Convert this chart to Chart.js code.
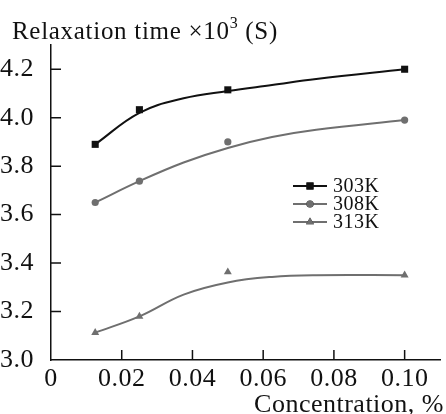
<!DOCTYPE html>
<html>
<head>
<meta charset="utf-8">
<script src="https://cdn.jsdelivr.net/npm/chart.js@4.4.0/dist/chart.umd.min.js"></script>
<style>
  html, body { margin: 0; padding: 0; background: #fff; }
  #wrap { width: 446px; height: 414px; position: relative; }
</style>
</head>
<body>
<div id="wrap"><canvas id="chart"></canvas></div>
<script>
// Measured points (concentration %, relaxation time x10^3 s)
const concentrations = [0.0125, 0.025, 0.05, 0.1];
const t303 = [3.89, 4.033, 4.115, 4.2];
const t308 = [3.65, 3.738, 3.90, 3.99];
const t313 = [3.113, 3.18, 3.363, 3.35];

// Fitted curves
const curveX = [0.0125, 0.025, 0.0375, 0.05, 0.0625, 0.075, 0.1];
const curve303 = [3.89, 4.02, 4.08, 4.11, 4.135, 4.16, 4.2];
const curve308 = [3.65, 3.738, 3.815, 3.875, 3.92, 3.95, 3.99];
const curve313 = [3.113, 3.18, 3.27, 3.32, 3.343, 3.35, 3.35];

const seriesNames = ['303K', '308K', '313K'];
const xTicks = [0, 0.02, 0.04, 0.06, 0.08, 0.10];
const yTicks = [3.0, 3.2, 3.4, 3.6, 3.8, 4.0, 4.2];

const BLACK = '#111111';
const GRAY = '#6f6f6f';
const FONT = '"Liberation Serif", "Times New Roman", serif';

function pts(xs, ys) {
    return xs.map((x, i) => ({ x: x, y: ys[i] }));
}

const styles = [
    { color: BLACK, point: 'rect', radius: 5 },
    { color: GRAY, point: 'circle', radius: 3.6 },
    { color: GRAY, point: 'triangle', radius: 4.6 }
];
const markerData = [t303, t308, t313];
const curveData = [curve303, curve308, curve313];

const datasets = [];
styles.forEach((s, i) => {
    datasets.push({
        label: seriesNames[i] + ' fit',
        data: pts(curveX, curveData[i]),
        showLine: true,
        borderColor: s.color,
        borderWidth: 2,
        pointRadius: 0,
        tension: 0.4
    });
    datasets.push({
        label: seriesNames[i],
        data: pts(concentrations, markerData[i]),
        showLine: false,
        pointStyle: s.point,
        pointRadius: s.radius,
        backgroundColor: s.color,
        borderColor: s.color,
        borderWidth: 0
    });
});

// inward tick marks, titles and legend
const decorations = {
    id: 'decorations',
    beforeDraw(chart) {
        chart.ctx.letterSpacing = '0.5px';
    },
    afterDraw(chart) {
        const ctx = chart.ctx;
        const xs = chart.scales.x, ys = chart.scales.y;
        const area = chart.chartArea;
        ctx.save();
        ctx.strokeStyle = BLACK;
        ctx.lineWidth = 1.5;
        ctx.beginPath();
        xTicks.slice(1).forEach(v => {
            const px = xs.getPixelForValue(v);
            ctx.moveTo(px, area.bottom);
            ctx.lineTo(px, area.bottom - 10);
        });
        yTicks.slice(1).forEach(v => {
            const py = ys.getPixelForValue(v);
            ctx.moveTo(area.left, py);
            ctx.lineTo(area.left + 10, py);
        });
        ctx.stroke();

        // y title
        ctx.fillStyle = BLACK;
        ctx.textBaseline = 'alphabetic';
        ctx.textAlign = 'left';
        ctx.letterSpacing = '0.7px';
        ctx.font = '25px ' + FONT;
        const t1 = 'Relaxation time \u00d710';
        ctx.fillText(t1, 12, 39);
        let w = ctx.measureText(t1).width;
        ctx.font = '16px ' + FONT;
        ctx.fillText('3', 12 + w, 28);
        const w3 = ctx.measureText('3').width;
        ctx.font = '25px ' + FONT;
        ctx.fillText(' (S)', 12 + w + w3, 39);

        // x title
        ctx.letterSpacing = '0.5px';
        ctx.font = '26px ' + FONT;
        const t2 = 'Concentration, %';
        ctx.fillText(t2, 444 - ctx.measureText(t2).width, 412);

        // legend
        ctx.font = '20px ' + FONT;
        ctx.textBaseline = 'middle';
        const rows = [186, 204, 222];
        styles.forEach((s, i) => {
            const y = rows[i];
            ctx.strokeStyle = s.color;
            ctx.lineWidth = 2;
            ctx.beginPath();
            ctx.moveTo(293, y);
            ctx.lineTo(327, y);
            ctx.stroke();
            Chart.helpers.drawPoint(ctx, { pointStyle: s.point, radius: s.radius, borderWidth: 0 }, 310, y);
            ctx.fillStyle = s.color;
            ctx.fill();
            ctx.fillStyle = BLACK;
            ctx.fillText(seriesNames[i], 333, y + 1);
        });
        ctx.restore();
        ctx.letterSpacing = '0px';
    }
};

new Chart(document.getElementById('chart'), {
    type: 'scatter',
    data: { datasets: datasets },
    options: {
        responsive: true,
        maintainAspectRatio: false,
        animation: false,
        layout: { padding: { top: 45, right: 6, left: 0, bottom: 0 } },
        plugins: {
            legend: { display: false },
            tooltip: { enabled: false }
        },
        scales: {
            x: {
                type: 'linear',
                min: 0,
                max: 0.11,
                afterBuildTicks: s => { s.ticks = xTicks.map(v => ({ value: v })); },
                afterFit: s => { s.height = 54; },
                grid: { display: false },
                border: { display: true, color: BLACK, width: 1.5 },
                ticks: {
                    color: BLACK,
                    font: { family: FONT, size: 26 },
                    padding: -4,
                    maxRotation: 0,
                    callback: v => v === 0 ? '0' : v.toFixed(2)
                }
            },
            y: {
                type: 'linear',
                min: 3.0,
                max: 4.3,
                afterBuildTicks: s => { s.ticks = yTicks.map(v => ({ value: v })); },
                afterFit: s => { s.width = 51; },
                grid: { display: false },
                border: { display: true, color: BLACK, width: 1.5 },
                ticks: {
                    color: BLACK,
                    font: { family: FONT, size: 26 },
                    padding: 9,
                    callback: v => v.toFixed(1)
                }
            }
        }
    },
    plugins: [decorations]
});
</script>
</body>
</html>
